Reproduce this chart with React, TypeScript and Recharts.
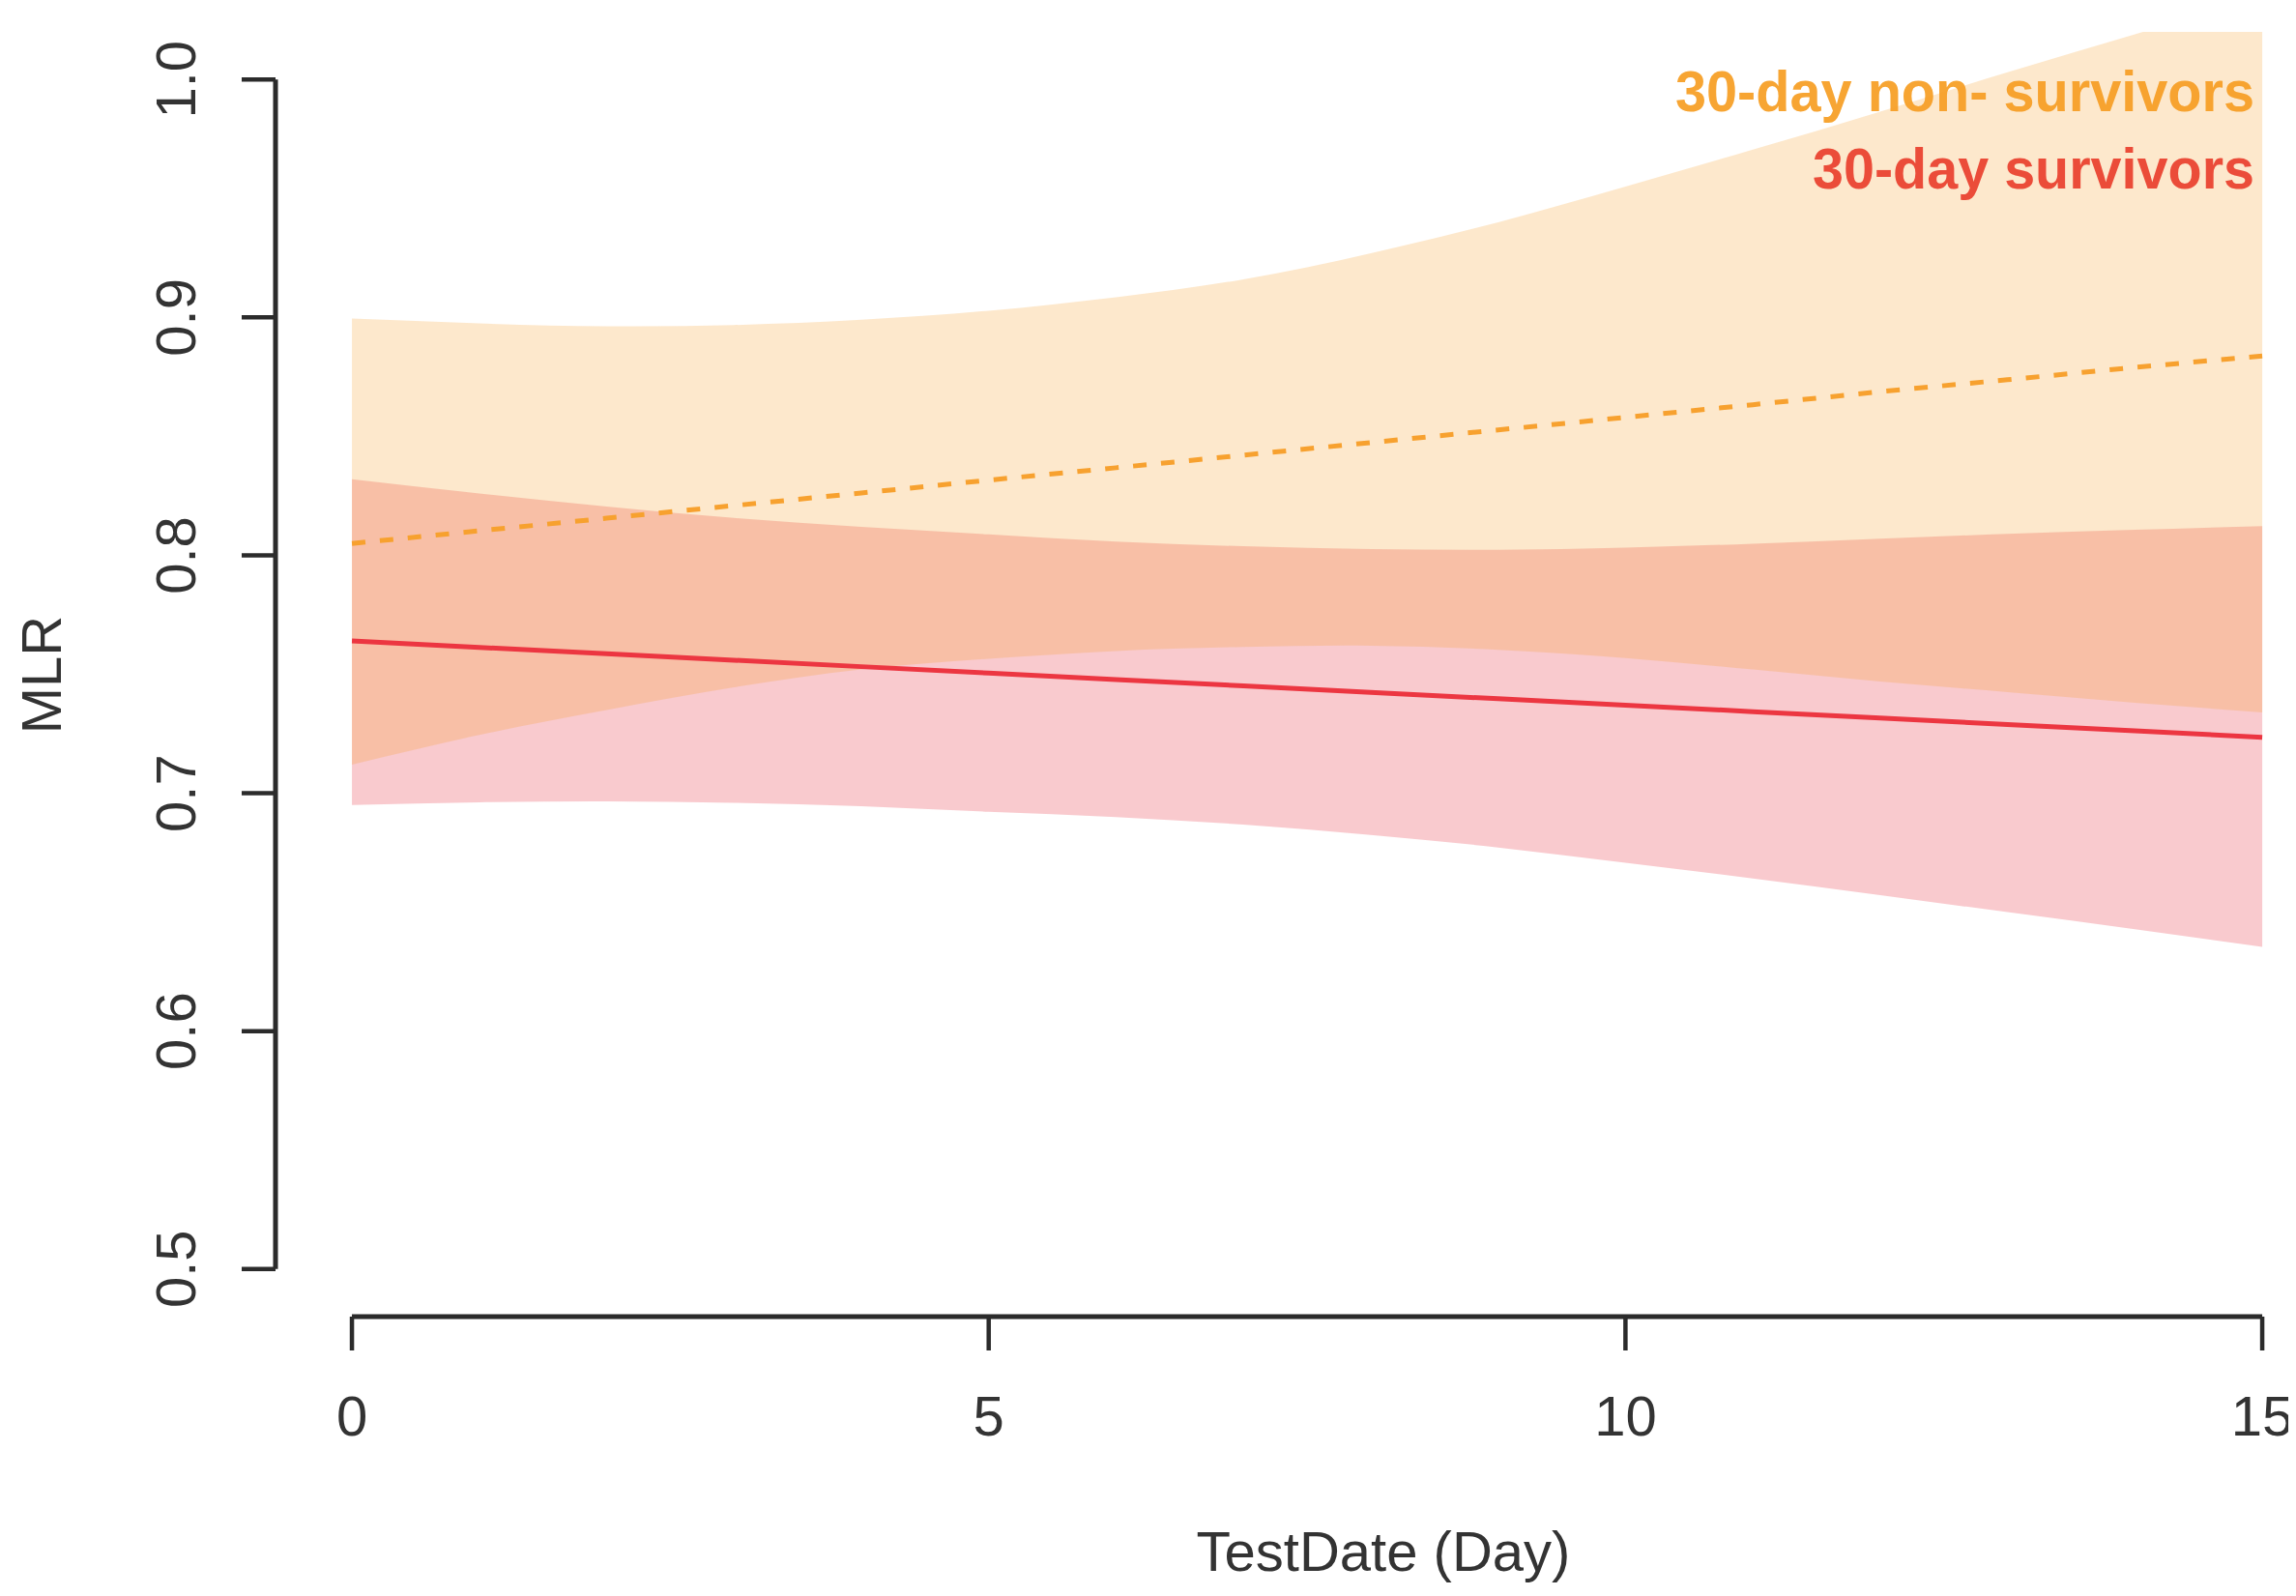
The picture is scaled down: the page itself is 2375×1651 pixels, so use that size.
import React from 'react';
import { ComposedChart, Area, Line, XAxis, YAxis, ReferenceLine, Label } from 'recharts';

// ---- data ----
const days = [0, 1, 2, 3, 4, 5, 6, 7, 8, 9, 10, 11, 12, 13, 14, 15];

// 30-day non-survivors (orange): fitted mean and CI band
const nonSurvMean = [0.805, 0.8103, 0.8156, 0.8209, 0.8262, 0.8316, 0.8368, 0.8421, 0.8474, 0.8527, 0.858, 0.8633, 0.8688, 0.8738, 0.879, 0.8838];
const nonSurvLow = [0.712, 0.7245, 0.735, 0.7445, 0.752, 0.7565, 0.7598, 0.7615, 0.762, 0.7603, 0.7568, 0.752, 0.747, 0.7425, 0.738, 0.734];
const nonSurvHigh = [0.8995, 0.8975, 0.8963, 0.8968, 0.899, 0.9028, 0.9085, 0.916, 0.927, 0.94, 0.955, 0.9705, 0.9865, 1.003, 1.019, 1.035];

// 30-day survivors (red): fitted mean and CI band
const survMean = [0.764, 0.7613, 0.7586, 0.7559, 0.7532, 0.7505, 0.7478, 0.7451, 0.7424, 0.7397, 0.737, 0.7343, 0.7316, 0.7289, 0.7262, 0.7235];
const survLow = [0.695, 0.6962, 0.6966, 0.696, 0.6945, 0.6922, 0.69, 0.6868, 0.6825, 0.6772, 0.6708, 0.6642, 0.6572, 0.65, 0.6428, 0.6354];
const survHigh = [0.832, 0.826, 0.8205, 0.8157, 0.812, 0.8088, 0.8058, 0.8038, 0.8026, 0.8023, 0.8032, 0.8049, 0.807, 0.809, 0.8107, 0.8123];

const xTicks = [0, 5, 10, 15];
const yTicks = [0.5, 0.6, 0.7, 0.8, 0.9, 1.0];
const legendLabels = ['30-day non- survivors', '30-day survivors'];
const xTitle = 'TestDate (Day)';
const yTitle = 'MLR';

const data = days.map((d, i) => ({
  day: d,
  oBand: [nonSurvLow[i], nonSurvHigh[i]],
  oMean: nonSurvMean[i],
  rBand: [survLow[i], survHigh[i]],
  rMean: survMean[i],
}));

// ---- styles ----
const FONT = '"Liberation Sans", Arial, Helvetica, sans-serif';
const AXIS = '#2b2b2b';
const TEXT = '#333333';
const ORANGE = '#F79F2B';
const RED = '#E72B3B';
const ORANGE_LINE = '#F7A12F';
const RED_LINE = '#EC3641';
const ORANGE_TEXT = '#F7A533';
const RED_TEXT = '#E8333F';

const W = 2367;
const H = 1643;

const XTick = (props: any) => {
  const { x, y, payload } = props;
  return (
    <g>
      <line x1={x} y1={y} x2={x} y2={y + 35} stroke={AXIS} strokeWidth={4.5} />
      <text x={x} y={y + 123} textAnchor="middle" fontSize={58} fontFamily={FONT} fill={TEXT}>
        {payload.value}
      </text>
    </g>
  );
};

const YTick = (props: any) => {
  const { x, y, payload } = props;
  const tx = x - 83;
  return (
    <g>
      <line x1={x} y1={y} x2={x - 35} y2={y} stroke={AXIS} strokeWidth={4.5} />
      <text
        x={tx}
        y={y}
        transform={`rotate(-90 ${tx} ${y})`}
        textAnchor="middle"
        fontSize={58}
        fontFamily={FONT}
        fill={TEXT}
      >
        {Number(payload.value).toFixed(1)}
      </text>
    </g>
  );
};

export default function App() {
  return (
    <div style={{ width: W, height: H, background: '#ffffff' }}>
      <ComposedChart
        width={W}
        height={H}
        data={data}
        margin={{ top: 25, right: 2, left: 0, bottom: 0 }}
      >
        <XAxis
          dataKey="day"
          type="number"
          domain={[-0.6, 15.25]}
          ticks={xTicks}
          allowDataOverflow
          axisLine={false}
          tickLine={false}
          tickSize={0}
          tickMargin={0}
          height={289}
          tick={<XTick />}
          interval={0}
        >
          <Label
            content={() => (
              <text x={1423} y={1617} textAnchor="middle" fontSize={58} fontFamily={FONT} fill={TEXT}>
                {xTitle}
              </text>
            )}
          />
        </XAxis>
        <YAxis
          type="number"
          domain={[0.48, 1.02]}
          ticks={yTicks}
          allowDataOverflow
          axisLine={false}
          tickLine={false}
          tickSize={0}
          tickMargin={0}
          width={277}
          tick={<YTick />}
          interval={0}
        >
          <Label
            content={() => (
              <text
                x={55}
                y={690}
                transform="rotate(-90 55 690)"
                textAnchor="middle"
                fontSize={58}
                fontFamily={FONT}
                fill={TEXT}
              >
                {yTitle}
              </text>
            )}
          />
        </YAxis>

        <Area
          dataKey="rBand"
          type="natural"
          stroke="none"
          fill={RED}
          fillOpacity={0.25}
          isAnimationActive={false}
          dot={false}
          activeDot={false}
        />
        <Area
          dataKey="oBand"
          type="natural"
          stroke="none"
          fill={ORANGE}
          fillOpacity={0.24}
          isAnimationActive={false}
          dot={false}
          activeDot={false}
        />
        <Line
          dataKey="oMean"
          type="linear"
          stroke={ORANGE_LINE}
          strokeWidth={5}
          strokeDasharray="14 15"
          dot={false}
          activeDot={false}
          isAnimationActive={false}
        />
        <Line
          dataKey="rMean"
          type="linear"
          stroke={RED_LINE}
          strokeWidth={5}
          dot={false}
          activeDot={false}
          isAnimationActive={false}
        />

        <ReferenceLine
          segment={[{ x: -0.6, y: 0.5 }, { x: -0.6, y: 1.0 }]}
          stroke={AXIS}
          strokeWidth={5}
        />
        <ReferenceLine
          segment={[{ x: 0, y: 0.48 }, { x: 15, y: 0.48 }]}
          stroke={AXIS}
          strokeWidth={5}
        />

        <g>
          <text
            x={2324}
            y={107}
            textAnchor="end"
            fontSize={60}
            fontWeight="bold"
            fontFamily={FONT}
            fill={ORANGE_TEXT}
            textLength={599}
            lengthAdjust="spacingAndGlyphs"
          >
            {legendLabels[0]}
          </text>
          <text
            x={2324}
            y={187}
            textAnchor="end"
            fontSize={60}
            fontWeight="bold"
            fontFamily={FONT}
            fill={RED_TEXT}
            textLength={457}
            lengthAdjust="spacingAndGlyphs"
          >
            {legendLabels[1]}
          </text>
        </g>
      </ComposedChart>
    </div>
  );
}
